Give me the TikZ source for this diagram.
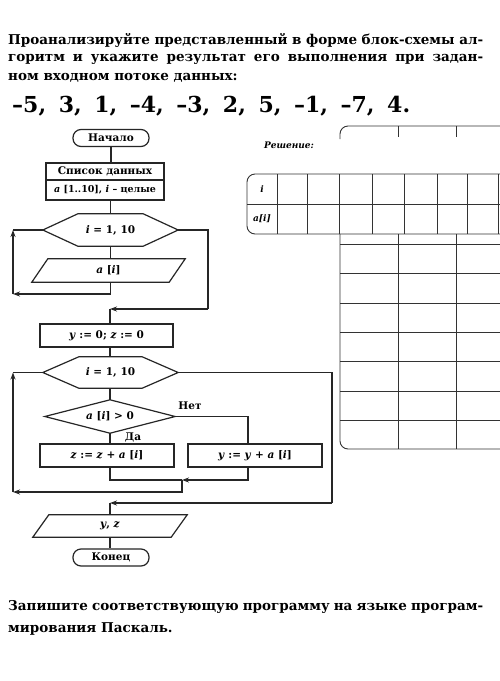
\documentclass[tikz,border=0pt]{standalone}
\usepackage{fontspec}
\setmainfont{DejaVu Serif}
\usetikzlibrary{arrows.meta}
\newcommand\ttlfont{\fontsize{13.5}{16}\selectfont\bfseries}
\newcommand\fcfont{\fontsize{10.5}{12}\selectfont\bfseries}
\newcommand\vv[1]{\textit{#1}}
\newcommand\hexdraw[2]{\draw[fcline] (#1.west) -- ([xshift=#2]#1.north west) -- ([xshift=-#2]#1.north east) -- (#1.east) -- ([xshift=-#2]#1.south east) -- ([xshift=#2]#1.south west) -- cycle;}
\newcommand\pardraw[2]{\draw[fcline] ([xshift=#2]#1.north west) -- (#1.north east) -- ([xshift=-#2]#1.south east) -- (#1.south west) -- cycle;}
\tikzset{
  fcline/.style={draw=black!85, line width=1.2pt},
  arr/.style={fcline, -{Stealth[length=7pt,width=5pt]}},
  term/.style={draw=black!85, line width=1.2pt, rounded corners=8pt, minimum width=76pt, minimum height=17pt, inner sep=0pt, font=\fcfont},
  proc/.style={draw=black!85, line width=1.2pt, minimum height=23pt, inner sep=0pt, font=\fcfont},
  shapebox/.style={inner sep=0pt, font=\fcfont},
  tabline/.style={draw=black!80, line width=0.9pt},
  lbl/.style={inner sep=0pt, font=\fcfont}
}
\begin{document}
\begin{tikzpicture}[x=1pt,y=-1pt]
\useasboundingbox[fill=white] (0,0) rectangle (500,681);

% ---- task text ----
\node[anchor=west, inner sep=0pt] (t1) at (8,40) {\makebox[475pt][s]{\ttlfont Проанализируйте представленный в форме блок-схемы ал-}};
\node[anchor=west, inner sep=0pt] (t2) at (8,59) {\makebox[475pt][s]{\ttlfont горитм и укажите результат его выполнения при задан-}};
\node[anchor=west, inner sep=0pt] (t3) at (8,78) {\ttlfont ном входном потоке данных:};
\node[anchor=west, inner sep=0pt] (nums) at (12,106) {\makebox[398pt][s]{\fontsize{22}{26}\selectfont\bfseries –5, 3, 1, –4, –3, 2, 5, –1, –7, 4.}};
\node[anchor=west, inner sep=0pt] (b1) at (8,607) {\makebox[475pt][s]{\ttlfont Запишите соответствующую программу на языке програм-}};
\node[anchor=west, inner sep=0pt] (b2) at (8,629) {\ttlfont мирования Паскаль.};

% ---- flowchart ----
\node[term] (start) at (111,138) {Начало};
\node[proc, minimum width=118pt, minimum height=17pt] (data1) at (105,171.5) {Список данных};
\node[proc, minimum width=118pt, minimum height=20pt, font=\fontsize{9.5}{11}\selectfont\bfseries] (data2) at (105,190) {\vv{a} [1..10], \vv{i} – целые};
\node[shapebox, minimum width=135pt, minimum height=32pt] (h1) at (110.5,230) {\vv{i} = 1, 10};
\hexdraw{h1}{35pt}
\node[shapebox, minimum width=153pt, minimum height=23pt] (p1) at (108.5,270.5) {\vv{a} [\vv{i}]};
\pardraw{p1}{16pt}
\node[proc, minimum width=133pt] (init) at (106.5,335.5) {\vv{y} := 0; \vv{z} := 0};
\node[shapebox, minimum width=135pt, minimum height=31pt] (h2) at (110.5,372.5) {\vv{i} = 1, 10};
\hexdraw{h2}{36pt}
\node[shapebox, minimum width=130pt, minimum height=33pt] (dec) at (110,416.5) {\vv{a} [\vv{i}] > 0};
\draw[fcline] (dec.west) -- (dec.north) -- (dec.east) -- (dec.south) -- cycle;
\node[proc, minimum width=134pt] (zbox) at (107,455.5) {\vv{z} := \vv{z} + \vv{a} [\vv{i}]};
\node[proc, minimum width=134pt] (ybox) at (255,455.5) {\vv{y} := \vv{y} + \vv{a} [\vv{i}]};
\node[shapebox, minimum width=154pt, minimum height=22pt] (p2) at (110,526) {\vv{y}, \vv{z}};
\pardraw{p2}{16pt}
\node[term] (stop) at (111,557.5) {Конец};

\node[lbl] (no) at (190,406) {Нет};
\node[lbl] (yes) at (133,437) {Да};

% coordinates
\coordinate (l1a) at (13,294);
\coordinate (l1b) at (13,230);
\coordinate (e1a) at (208,309);
\coordinate (e1b) at (110,309);
\coordinate (nx) at (248,416.5);
\coordinate (m) at (182,480);
\coordinate (l2a) at (13,492);
\coordinate (l2b) at (13,372.5);
\coordinate (e2a) at (332,503);
\coordinate (e2b) at (110,503);

% connectors
\draw[fcline] (start.south) -- (start.south |- data1.north);
\draw[fcline] (h1.north |- data2.south) -- (h1.north);
\draw[fcline] (h1.south) -- (h1.south |- p1.north);
\draw[arr] (h1.south |- p1.south) |- (l1a);
\draw[arr] (l1a) -- (l1b);
\draw[fcline] (l1b) -- (h1.west);
\draw[fcline] (h1.east) -| (e1a);
\draw[arr] (e1a) -- (e1b);
\draw[fcline] (e1b) -- (e1b |- init.north);
\draw[fcline] (e1b |- init.south) -- (e1b |- h2.north);
\draw[fcline] (e1b |- h2.south) -- (dec.north);
\draw[fcline] (dec.east) -- (nx) -- (nx |- ybox.north);
\draw[fcline] (dec.south) -- (dec.south |- zbox.north);
\draw[fcline] (dec.south |- zbox.south) |- (m);
\draw[arr] (nx |- ybox.south) |- (m);
\draw[arr] (m) |- (l2a);
\draw[arr] (l2a) -- (l2b);
\draw[fcline] (l2b) -- (h2.west);
\draw[fcline] (h2.east) -| (e2a);
\draw[arr] (e2a) -- (e2b);
\draw[fcline] (e2b) -- (e2b |- p2.north);
\draw[fcline] (e2b |- p2.south) -- (e2b |- stop.north);

% ---- solution tables ----
\node[inner sep=0pt, font=\fontsize{9}{10}\selectfont\bfseries\itshape] (sol) at (289,145) {Решение:};
\draw[tabline, rounded corners=8pt] (340,139) |- (500,126);
\draw[tabline] (398,126) -- (398,137);
\draw[tabline] (456,126) -- (456,137);

\draw[tabline, rounded corners=8pt] (500,174) -- (247,174) -- (247,234) -- (500,234);
\draw[tabline] (247,204) -- (500,204);
\foreach \x in {277,307,339,372,404,437,467,498} \draw[tabline] (\x,174) -- (\x,234);
\node[lbl, font=\fontsize{9}{10}\selectfont\bfseries\itshape] (ti) at (262,189) {i};
\node[lbl, font=\fontsize{9}{10}\selectfont\bfseries\itshape] (tai) at (262,219) {a[i]};

\draw[tabline, rounded corners=8pt] (340,234) -- (340,449) -- (500,449);
\foreach \x in {398,456} \draw[tabline] (\x,234) -- (\x,449);
\foreach \y in {244,273,303,332,361,391,420} \draw[tabline] (340,\y) -- (500,\y);
\end{tikzpicture}
\end{document}
